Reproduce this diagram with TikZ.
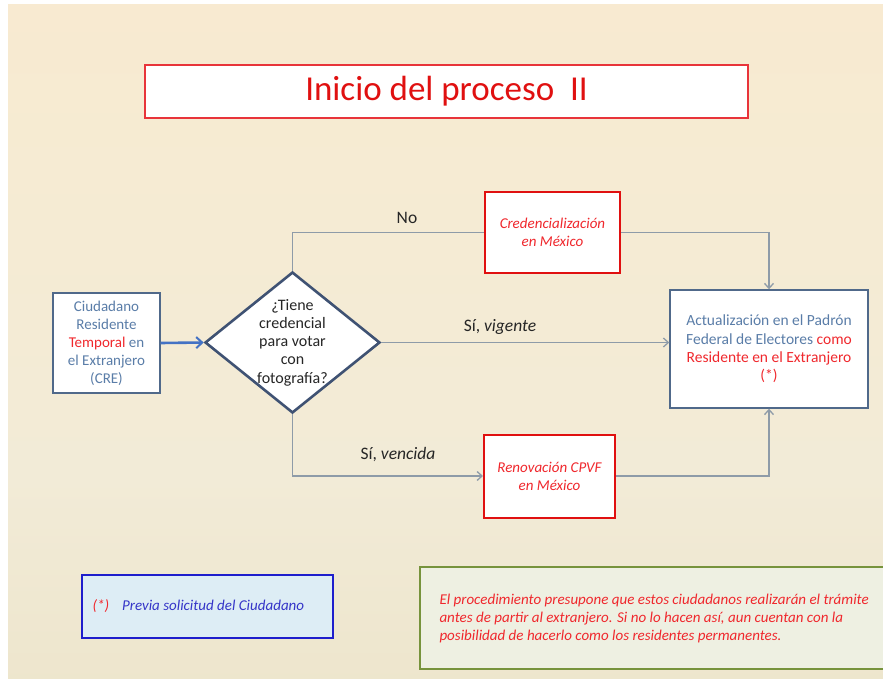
\documentclass[tikz,border=0pt]{standalone}
\usepackage{fontspec}
\setmainfont{Carlito}
\usetikzlibrary{shapes.geometric,arrows.meta}
\definecolor{bgA}{HTML}{FCEACC}
\definecolor{bgB}{HTML}{F2EBD7}
\definecolor{bgC}{HTML}{EAE2C6}
\definecolor{bgD}{HTML}{D6C59C}
\definecolor{titlered}{HTML}{E8343A}
\definecolor{boxred}{HTML}{E01010}
\definecolor{txtred}{HTML}{F0282D}
\definecolor{steel}{HTML}{5A7DA8}
\definecolor{steelb}{HTML}{50698A}
\definecolor{diab}{HTML}{3F5273}
\definecolor{conn}{HTML}{8E9BA8}
\definecolor{bluearr}{HTML}{4472C4}
\definecolor{prevb}{HTML}{1E1ECC}
\definecolor{prevf}{HTML}{DDEDF5}
\definecolor{prevt}{HTML}{3535C8}
\definecolor{greenb}{HTML}{77933C}
\definecolor{greenf}{HTML}{EEF0E2}
\definecolor{labtxt}{HTML}{262626}
\pgfdeclareverticalshading{bgshade}{100bp}{color(0bp)=(bgD); color(14bp)=(bgC); color(40bp)=(bgB); color(100bp)=(bgA)}
\tikzset{
  redbox/.style={draw=boxred, line width=2pt, fill=white, inner sep=2pt, align=center, text=txtred, font=\itshape\fontsize{15}{18}\selectfont},
  bluebox/.style={draw=steelb, line width=1.4pt, fill=white, inner sep=2pt, align=center, text=steel, font=\fontsize{15.5}{18.3}\selectfont},
  conline/.style={draw=conn, line width=1.5pt},
  arr/.style={conline, -{Straight Barb[length=5pt,width=9pt,line width=1.3pt]}},
  lab/.style={text=labtxt, font=\fontsize{17.5}{20}\selectfont},
}
\begin{document}
\begin{tikzpicture}[x=1pt,y=-1pt]
\useasboundingbox (0,0) rectangle (883,679);
\fill[white] (0,0) rectangle (883,679);
\shade[shading=bgshade] (8,5) rectangle (883,679);

% title
\node[draw=titlered, line width=1.6pt, fill=white, minimum width=603pt, minimum height=53pt, inner sep=0pt,
      text=boxred, font=\fontsize{35}{38}\selectfont] (title) at (446.5,91.5) {Inicio del proceso\ \ II};

% boxes
\node[bluebox, minimum width=107pt, minimum height=100pt, font=\fontsize{15}{18}\selectfont] (ciud) at (106.5,343)
  {Ciudadano\\Residente\\\textcolor{txtred}{Temporal} en\\el Extranjero\\(CRE)};
\node[diamond, draw=diab, line width=2.6pt, fill=white, minimum width=175pt, minimum height=141pt,
      shape aspect=1.24, inner sep=0pt] (q) at (292.5,342.5) {};
\node[align=center, text=labtxt, font=\fontsize{16}{18.3}\selectfont] (qtext) at (q.center)
  {¿Tiene\\credencial\\para votar\\con\\fotografía?};
\node[redbox, minimum width=135pt, minimum height=81pt] (cred) at (552.5,232.5)
  {Credencialización\\en México};
\node[redbox, minimum width=131pt, minimum height=83pt] (ren) at (549.5,476)
  {Renovación CPVF\\en México};
\node[bluebox, minimum width=198pt, minimum height=118pt] (act) at (769,349)
  {Actualización en el Padrón\\Federal de Electores \textcolor{txtred}{como}\\\textcolor{txtred}{Residente en el Extranjero}\\\textcolor{txtred}{(*)}};

% connectors
\draw[bluearr, line width=2.6pt, -{Straight Barb[length=6pt,width=11pt,line width=2pt]}] (ciud.east) -- (q.west);
\draw[conline] (q.north) |- (cred.west);
\draw[arr] (cred.east) -| (act.north);
\draw[arr] (q.east) -- (act.west |- q.east);
\draw[arr] (q.south) |- (ren.west);
\draw[arr] (ren.east) -| (act.south);

% labels
\node[lab] (lno) at (407,218) {No};
\node[lab] (lvig) at (500,327) {Sí, \textit{vigente}};
\node[lab] (lven) at (398,455) {Sí, \textit{vencida}};

% bottom notes
\node[draw=prevb, line width=2pt, fill=prevf, minimum width=251pt, minimum height=63pt, inner sep=0pt] (prev) at (207.5,606.5) {};
\node[anchor=west, font=\itshape\fontsize{15}{17}\selectfont] (prevtext) at (89,606.5)
  {\textcolor{txtred}{(*)}\hspace{13pt}\textcolor{prevt}{Previa solicitud del Ciudadano}};
\node[draw=greenb, line width=2pt, fill=greenf, minimum width=468pt, minimum height=102pt, inner sep=0pt] (note) at (654,618) {};
\node[anchor=west, align=left, text=txtred, font=\itshape\fontsize{15}{18}\selectfont] (notetext) at (436,618)
  {El procedimiento presupone que estos ciudadanos realizarán el trámite\\antes de partir al extranjero. Si no lo hacen así, aun cuentan con la\\posibilidad de hacerlo como los residentes permanentes.};
\end{tikzpicture}
\end{document}
